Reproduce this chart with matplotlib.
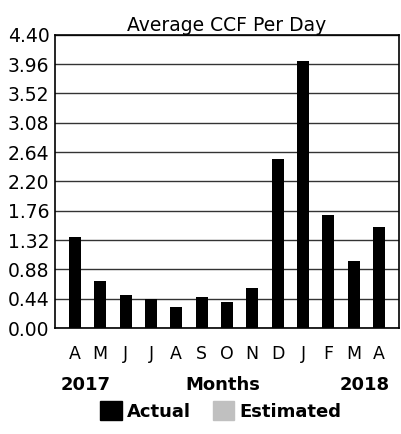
import matplotlib
matplotlib.use("Agg")
import matplotlib.pyplot as plt
from matplotlib.patches import Patch

# monthly averages, Apr 2017 .. Apr 2018
months = ["A", "M", "J", "J", "A", "S", "O", "N", "D", "J", "F", "M", "A"]
actual = [1.36, 0.70, 0.49, 0.44, 0.32, 0.47, 0.39, 0.60, 2.54, 4.00, 1.69, 1.01, 1.51]
yticks = [0.00, 0.44, 0.88, 1.32, 1.76, 2.20, 2.64, 3.08, 3.52, 3.96, 4.40]

fig = plt.figure(figsize=(4.01, 4.34), dpi=100)
ax = fig.add_axes([0.137, 0.244, 0.858, 0.676])

x = list(range(len(months)))
ax.bar(x, actual, width=0.47, color="black", zorder=3)

ax.set_xlim(-0.79, len(months) - 1 + 0.79)
ax.set_ylim(0, 4.40)
ax.set_yticks(yticks)
ax.set_yticklabels([f"{v:.2f}" for v in yticks], fontsize=13.5)
ax.set_xticks(x)
ax.set_xticklabels(months, fontsize=12.5)
ax.tick_params(axis="y", length=0, pad=4)
ax.tick_params(axis="x", length=0, pad=12)
ax.grid(axis="y", color="#333333", linewidth=1.0, zorder=1)
for s in ax.spines.values():
    s.set_linewidth(1.2)
    s.set_color("black")

ax.set_title("Average CCF Per Day", fontsize=13.5, pad=2)

fig.text(0.214, 0.113, "2017", fontsize=13, fontweight="bold", ha="center", va="center")
fig.text(0.555, 0.113, "Months", fontsize=13, fontweight="bold", ha="center", va="center")
fig.text(0.910, 0.113, "2018", fontsize=13, fontweight="bold", ha="center", va="center")

handles = [Patch(color="black", label="Actual"), Patch(color="#c0c0c0", label="Estimated")]
fig.legend(handles=handles, loc="center", bbox_to_anchor=(0.551, 0.053), ncol=2,
           frameon=False, handlelength=1.2, handleheight=1.2, handletextpad=0.3,
           columnspacing=1.2, prop={"size": 13, "weight": "bold"})

fig.savefig("out.png", dpi=100)
